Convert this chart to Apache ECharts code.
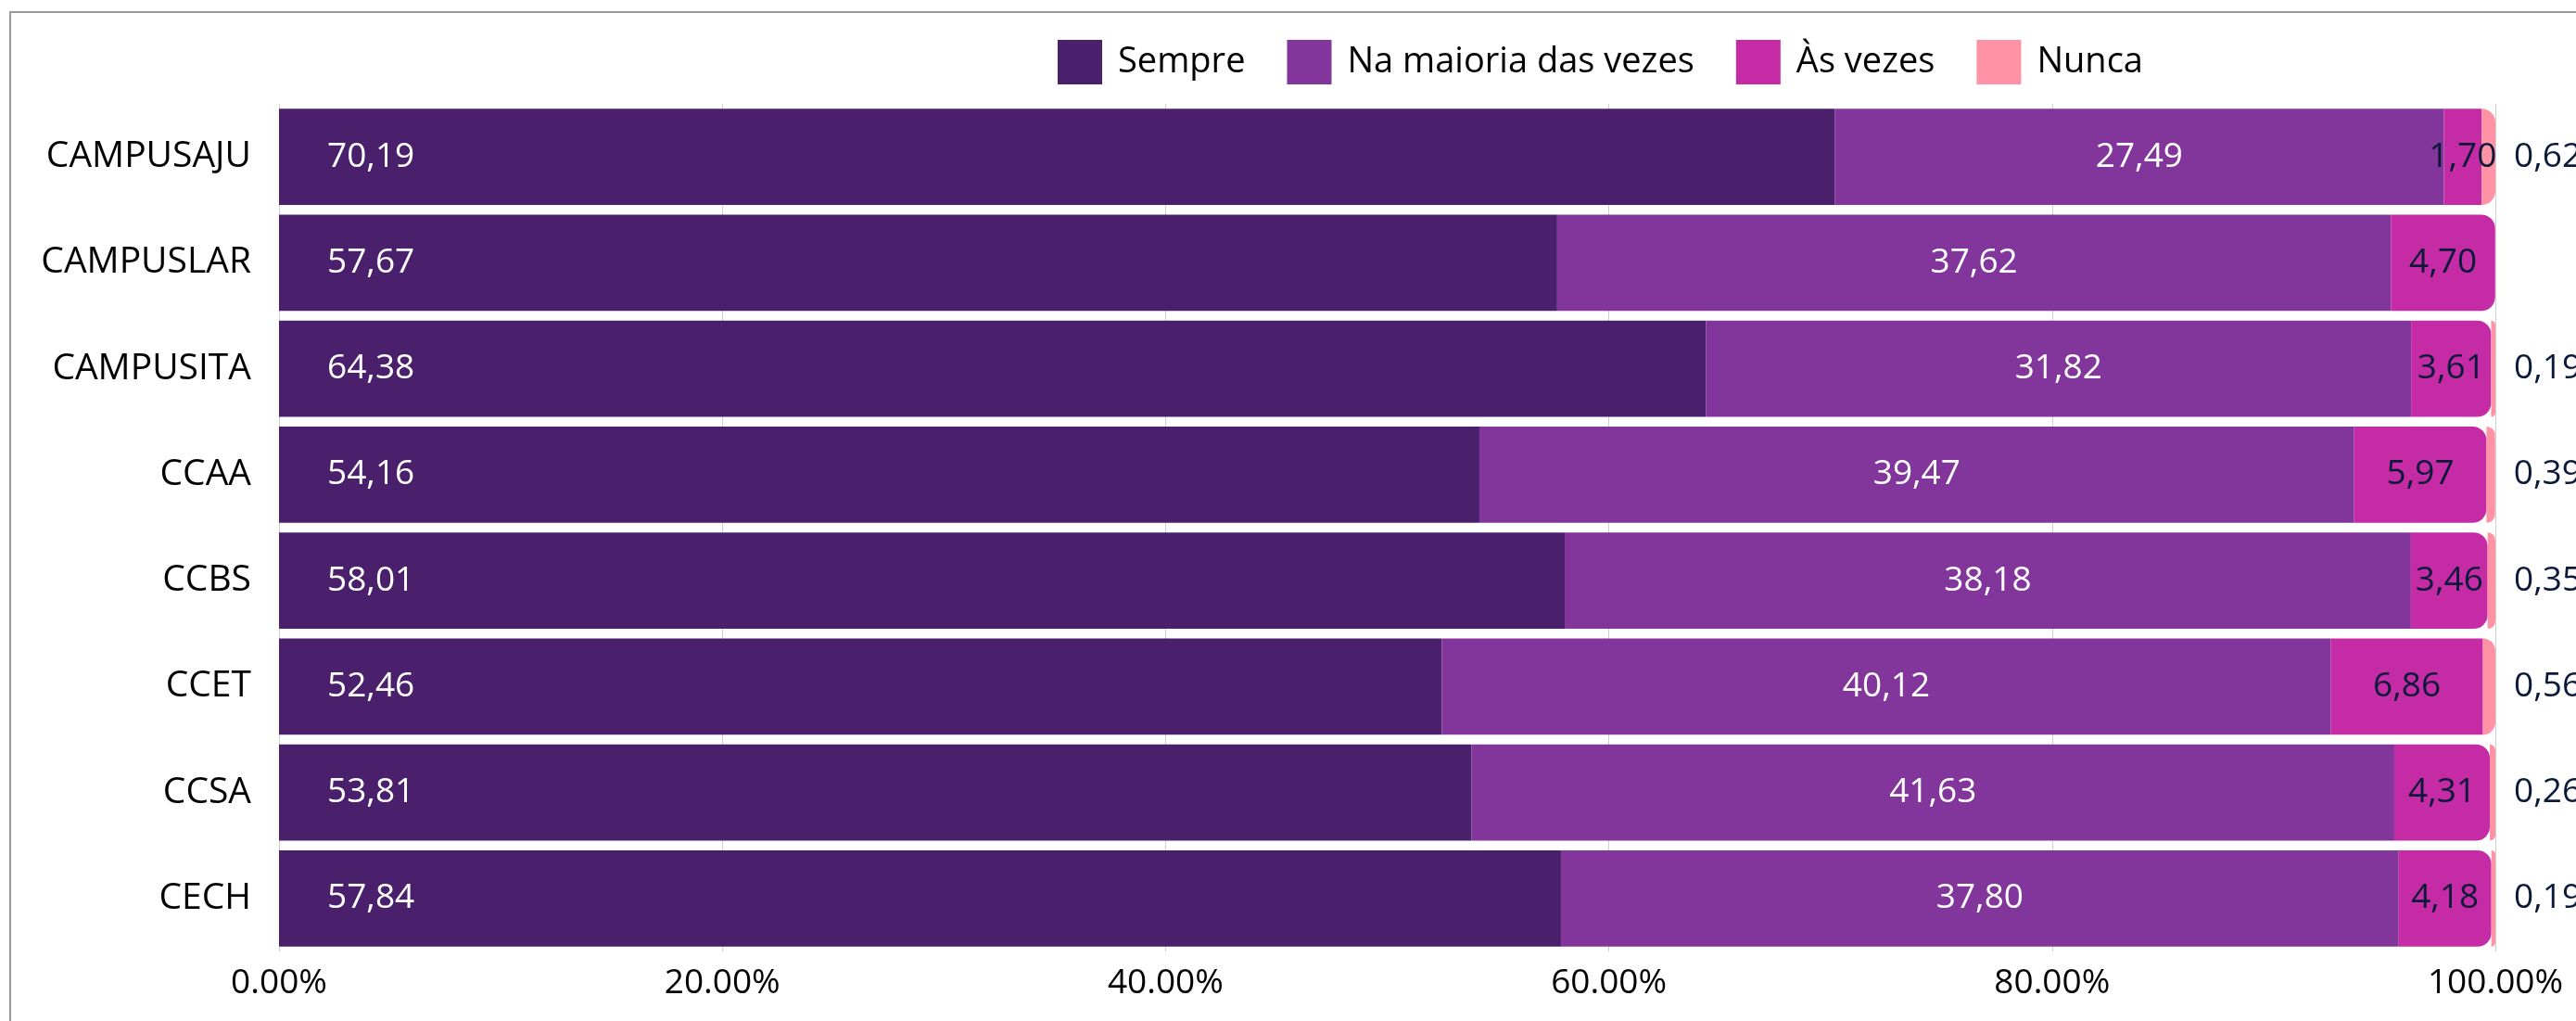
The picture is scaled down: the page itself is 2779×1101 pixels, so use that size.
<!DOCTYPE html>
<html>
<head>
<meta charset="utf-8">
<script src="https://cdn.jsdelivr.net/npm/echarts@6/dist/echarts.min.js"></script>
<style>
  html, body { margin: 0; padding: 0; background: #fff; overflow: hidden; }
  #frame { position: absolute; left: 10px; top: 12px; width: 3000px; height: 2000px; border: 2px solid #9a9a9c; }
  #chart { position: absolute; left: 0; top: 0; width: 2779px; height: 1101px; }
</style>
</head>
<body>
<div id="frame"></div>
<div id="chart"></div>
<script>
// categories (top to bottom)
var categories = ['CAMPUSAJU', 'CAMPUSLAR', 'CAMPUSITA', 'CCAA', 'CCBS', 'CCET', 'CCSA', 'CECH']
var sempre = [70.19, 57.67, 64.38, 54.16, 58.01, 52.46, 53.81, 57.84]
var maioria = [27.49, 37.62, 31.82, 39.47, 38.18, 40.12, 41.63, 37.80]
var asVezes = [1.70, 4.70, 3.61, 5.97, 3.46, 6.86, 4.31, 4.18]
var nunca = [0.62, 0, 0.19, 0.39, 0.35, 0.56, 0.26, 0.19]
var xTicks = [0, 20, 40, 60, 80, 100]

var colors = ['#4a206c', '#82359a', '#c42ba5', '#ff93a5']
var font = '"Open Sans", "Noto Sans", sans-serif'
var fs = 37
var dark = '#0c1a3a'

function fmt (p) {
  if (!p.value) return ''
  return p.value.toFixed(2).replace('.', ',')
}

var chart = echarts.init(document.getElementById('chart'))
chart.setOption({
  textStyle: { fontFamily: font },
  legend: {
    left: 1136,
    top: 38,
    itemWidth: 48,
    itemHeight: 48,
    itemGap: 45,
    icon: 'rect',
    textStyle: { fontSize: 38, color: '#000', padding: [0, 0, 0, 12] },
    data: ['Sempre', 'Na maioria das vezes', 'Às vezes', 'Nunca']
  },
  grid: { left: 301, right: 87, top: 112, bottom: 75 },
  xAxis: {
    type: 'value',
    min: xTicks[0],
    max: xTicks[xTicks.length - 1],
    interval: xTicks[1] - xTicks[0],
    axisLine: { show: false },
    axisTick: { show: false },
    splitLine: { lineStyle: { color: '#cfcfcf', width: 1 } },
    axisLabel: {
      fontSize: fs,
      color: '#000',
      margin: 16,
      formatter: function (v) { return v.toFixed(2) + '%' }
    }
  },
  yAxis: {
    type: 'category',
    inverse: true,
    data: categories,
    axisLine: { show: false },
    axisTick: { show: false },
    axisLabel: { fontSize: 39, color: '#000', margin: 30 }
  },
  series: [
    {
      name: 'Sempre',
      type: 'bar',
      stack: 'total',
      barCategoryGap: '9%',
      color: colors[0],
      data: sempre,
      label: { show: true, position: 'insideLeft', distance: 52, fontSize: fs, color: '#fff', formatter: fmt }
    },
    {
      name: 'Na maioria das vezes',
      type: 'bar',
      stack: 'total',
      color: colors[1],
      data: maioria,
      label: { show: true, position: 'inside', fontSize: fs, color: '#fff', formatter: fmt }
    },
    {
      name: 'Às vezes',
      type: 'bar',
      stack: 'total',
      color: colors[2],
      data: asVezes.map(function (v, i) {
        return {
          value: v,
          itemStyle: { borderRadius: nunca[i] < 0.5 ? [0, 15, 15, 0] : 0 }
        }
      }),
      label: { show: true, position: 'inside', fontSize: fs, color: dark, formatter: fmt }
    },
    {
      name: 'Nunca',
      type: 'bar',
      stack: 'total',
      color: colors[3],
      itemStyle: { borderRadius: [0, 15, 15, 0] },
      data: nunca,
      label: { show: true, position: 'right', distance: 20, fontSize: fs, color: dark, formatter: fmt }
    }
  ]
})
</script>
</body>
</html>
